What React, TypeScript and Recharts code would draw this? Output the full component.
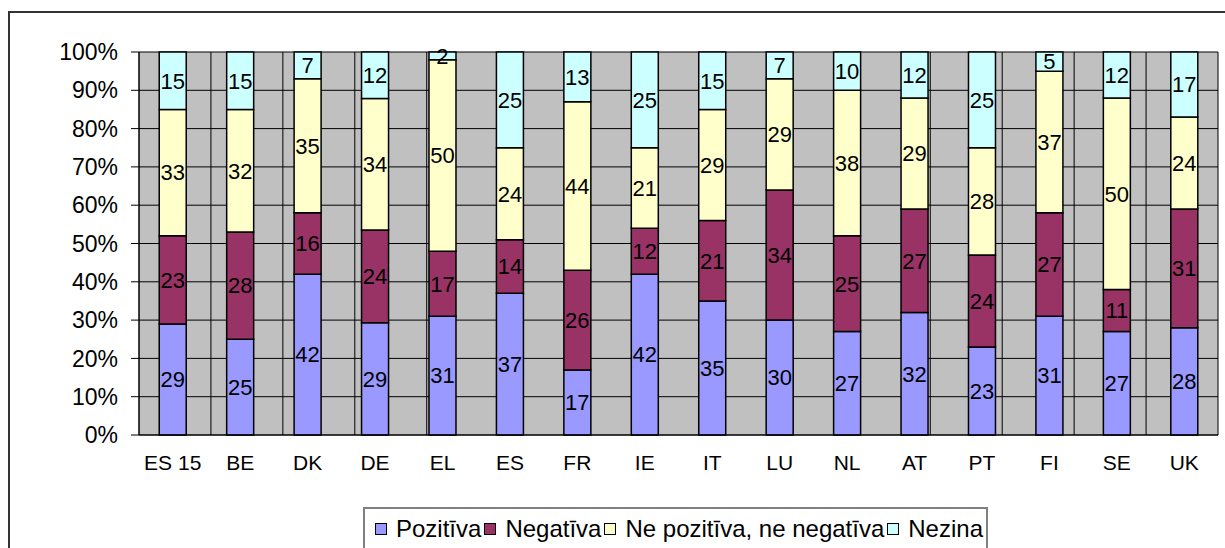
import React from 'react';
import { BarChart, Bar, XAxis, YAxis, CartesianGrid, Legend, LabelList } from 'recharts';

const categories = ['ES 15', 'BE', 'DK', 'DE', 'EL', 'ES', 'FR', 'IE', 'IT', 'LU', 'NL', 'AT', 'PT', 'FI', 'SE', 'UK'];
const pozitiva = [29, 25, 42, 29, 31, 37, 17, 42, 35, 30, 27, 32, 23, 31, 27, 28];
const negativa = [23, 28, 16, 24, 17, 14, 26, 12, 21, 34, 25, 27, 24, 27, 11, 31];
const neitrala = [33, 32, 35, 34, 50, 24, 44, 21, 29, 29, 38, 29, 28, 37, 50, 24];
const nezina = [15, 15, 7, 12, 2, 25, 13, 25, 15, 7, 10, 12, 25, 5, 12, 17];
const yTicks = [0, 0.1, 0.2, 0.3, 0.4, 0.5, 0.6, 0.7, 0.8, 0.9, 1];
const boundaryTicks = [0, 1, 2, 3, 4, 5, 6, 7, 8, 9, 10, 11, 12, 13, 14, 15, 16];

const series = [
  { key: 'pos', name: 'Pozitīva', color: '#9999FF' },
  { key: 'neg', name: 'Negatīva', color: '#993366' },
  { key: 'neu', name: 'Ne pozitīva, ne negatīva', color: '#FFFFCC' },
  { key: 'nz', name: 'Nezina', color: '#CCFFFF' },
];

const data = categories.map((c, i) => ({
  cat: c,
  pos: pozitiva[i],
  neg: negativa[i],
  neu: neitrala[i],
  nz: nezina[i],
}));

const FONT = '"Liberation Sans", Arial, sans-serif';

const LegendBox = () => (
  <div
    style={{
      boxSizing: 'border-box',
      width: 625,
      height: 45,
      border: '2px solid #808080',
      borderBottom: 'none',
      background: '#fff',
      display: 'flex',
      alignItems: 'center',
      paddingLeft: 10,
      paddingBottom: 4,
      fontFamily: FONT,
      fontSize: 24,
      color: '#000',
      whiteSpace: 'nowrap',
    }}
  >
    {series.map((s) => (
      <span key={s.key} style={{ display: 'inline-flex', alignItems: 'center', marginRight: 3 }}>
        <span
          style={{
            display: 'inline-block',
            width: 10,
            height: 10,
            background: s.color,
            border: '1.5px solid #000',
            marginRight: 9,
          }}
        />
        <span>{s.name}</span>
      </span>
    ))}
  </div>
);

export default function App() {
  return (
    <div
      style={{
        position: 'absolute',
        left: 0,
        top: 0,
        width: 1225,
        height: 548,
        overflow: 'hidden',
        background: '#fff',
        fontFamily: FONT,
      }}
    >
      <div
        style={{
          position: 'absolute',
          left: 8,
          top: 11,
          width: 1230,
          height: 600,
          border: '2px solid #333',
          boxSizing: 'border-box',
        }}
      />
      <div style={{ position: 'absolute', left: 0, top: 0 }}>
        <BarChart
          width={1225}
          height={548}
          data={data}
          stackOffset="expand"
          margin={{ top: 52, right: 7, bottom: 0, left: 0 }}
          barCategoryGap="30%"
        >
          <CartesianGrid
            xAxisId="b"
            fill="#C0C0C0"
            fillOpacity={1}
            stroke="#000"
            strokeWidth={1}
          />
          <XAxis
            xAxisId="b"
            type="number"
            domain={[0, 16]}
            allowDataOverflow
            ticks={boundaryTicks}
            interval={0}
            height={0}
            axisLine={false}
            tickSize={6}
            tickLine={{ stroke: '#000' }}
            tickFormatter={() => ''}
          />
          <XAxis
            dataKey="cat"
            height={68}
            tickSize={0}
            tickMargin={20}
            interval={0}
            axisLine={{ stroke: '#000' }}
            tickLine={false}
            tick={{ fontSize: 21, fill: '#000', fontFamily: FONT }}
          />
          <YAxis
            width={139}
            domain={[0, 1]}
            ticks={yTicks}
            interval={0}
            tickSize={8}
            tickMargin={13}
            axisLine={{ stroke: '#000' }}
            tickLine={{ stroke: '#000' }}
            tick={{ fontSize: 23, fill: '#000', fontFamily: FONT }}
            tickFormatter={(v: number) => `${Math.round(v * 100)}%`}
          />
          <Legend
            verticalAlign="bottom"
            content={() => <LegendBox />}
            wrapperStyle={{ position: 'absolute', left: 363, top: 507, width: 625, height: 45 }}
          />
          {series.map((s) => (
            <Bar
              key={s.key}
              dataKey={s.key}
              name={s.name}
              stackId="a"
              fill={s.color}
              stroke="#000"
              strokeWidth={1.5}
              isAnimationActive={false}
            >
              <LabelList
                dataKey={s.key}
                position="center"
                fill="#000"
                fontSize={22}
                fontFamily={FONT}
              />
            </Bar>
          ))}
        </BarChart>
      </div>
    </div>
  );
}
